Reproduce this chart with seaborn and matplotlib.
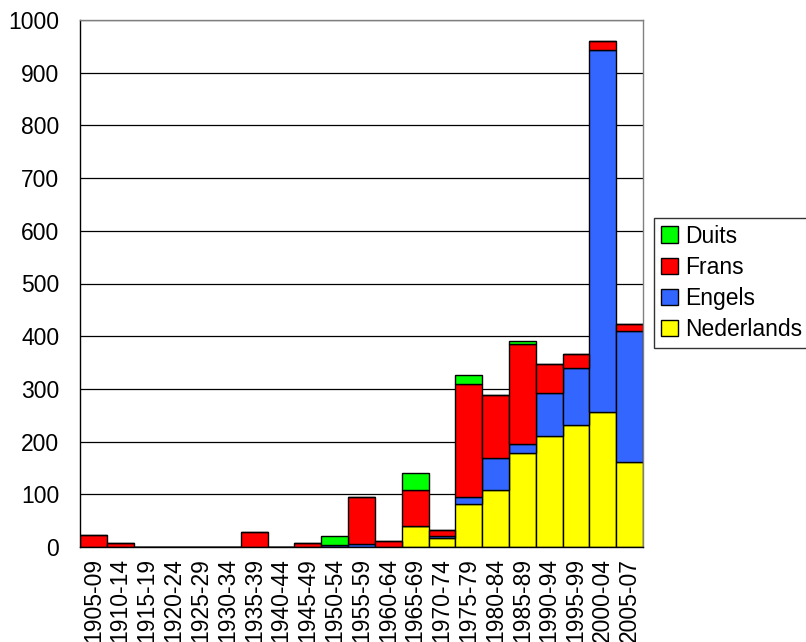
import matplotlib
matplotlib.use("Agg")
import matplotlib.pyplot as plt
import seaborn as sns
import numpy as np
from matplotlib.patches import Patch

periods = ["1905-09", "1910-14", "1915-19", "1920-24", "1925-29", "1930-34", "1935-39",
           "1940-44", "1945-49", "1950-54", "1955-59", "1960-64", "1965-69", "1970-74",
           "1975-79", "1980-84", "1985-89", "1990-94", "1995-99", "2000-04", "2005-07"]
nederlands = [0, 0, 0, 0, 0, 0, 0, 0, 0, 0, 0, 0, 40, 18, 82, 109, 179, 211, 231, 256, 161]
engels     = [0, 0, 0, 0, 0, 0, 0, 0, 0, 3, 5, 0, 0, 3, 12, 59, 16, 82, 109, 688, 249]
frans      = [22, 7, 0, 0, 0, 0, 28, 0, 8, 0, 90, 11, 69, 11, 215, 120, 190, 54, 26, 17, 14]
duits      = [0, 0, 0, 0, 0, 0, 0, 0, 0, 18, 0, 0, 31, 0, 17, 0, 5, 0, 0, 0, 0]

series_names = ["Nederlands", "Engels", "Frans", "Duits"]
series_vals = [nederlands, engels, frans, duits]
colors = {"Nederlands": "#FFFF00", "Engels": "#3366FF", "Frans": "#FF0000", "Duits": "#00FF00"}

sns.set_style("white")
plt.rcParams["font.family"] = ["Liberation Sans", "DejaVu Sans"]
plt.rcParams["text.color"] = "black"
plt.rcParams["xtick.color"] = "black"
plt.rcParams["ytick.color"] = "black"
FS = 16.5

fig = plt.figure(figsize=(8.06, 6.42), dpi=100)
ax = fig.add_axes([80/806, 1-547/642, (643-80)/806, (547-20)/642])

ax.set_axisbelow(True)
for v in range(100, 1001, 100):
    ax.axhline(v, color="black", lw=0.9, zorder=0)

bottom = np.zeros(len(periods))
for name, vals in zip(series_names, series_vals):
    sns.barplot(x=periods, y=vals, bottom=bottom.copy(), color=colors[name], width=1.0,
                edgecolor="black", linewidth=1.0, saturation=1, ax=ax, zorder=2)
    bottom = bottom + np.array(vals)

ax.set_xlim(-0.5, len(periods) - 0.5)
ax.set_ylim(0, 1000)
ax.set_yticks(range(0, 1001, 100))
ax.set_yticklabels([str(v) for v in range(0, 1001, 100)], fontsize=FS, color="black")
ax.set_xticks(range(len(periods)))
ax.set_xticklabels(periods, rotation=90, fontsize=FS, color="black")
ax.set_xticks(np.arange(-0.5, len(periods), 1.0), minor=True)
ax.tick_params(axis="x", which="major", length=0, pad=8)
ax.tick_params(axis="x", which="minor", length=6, width=1, color="black", direction="out")
ax.tick_params(axis="y", length=7, width=1, color="black", direction="out", pad=8)
ax.set_xlabel("")
ax.set_ylabel("")

for side in ["left", "bottom"]:
    ax.spines[side].set_color("black")
    ax.spines[side].set_linewidth(1.0)
for side in ["top", "right"]:
    ax.spines[side].set_visible(True)
    ax.spines[side].set_color("#808080")
    ax.spines[side].set_linewidth(1.0)

handles = [Patch(facecolor=colors[n], edgecolor="black", linewidth=1.0) for n in ["Duits", "Frans", "Engels", "Nederlands"]]
leg = fig.legend(handles, ["Duits", "Frans", "Engels", "Nederlands"],
                 loc="upper left", bbox_to_anchor=(654/806, 1-218/642),
                 fontsize=FS, frameon=True, fancybox=False, shadow=False,
                 handlelength=0.75, handleheight=0.75, handletextpad=0.3,
                 labelspacing=0.35, borderpad=0.3, borderaxespad=0,
                 labelcolor="black")
leg.get_frame().set_edgecolor("black")
leg.get_frame().set_linewidth(1.0)

fig.savefig("out.png", dpi=100)
